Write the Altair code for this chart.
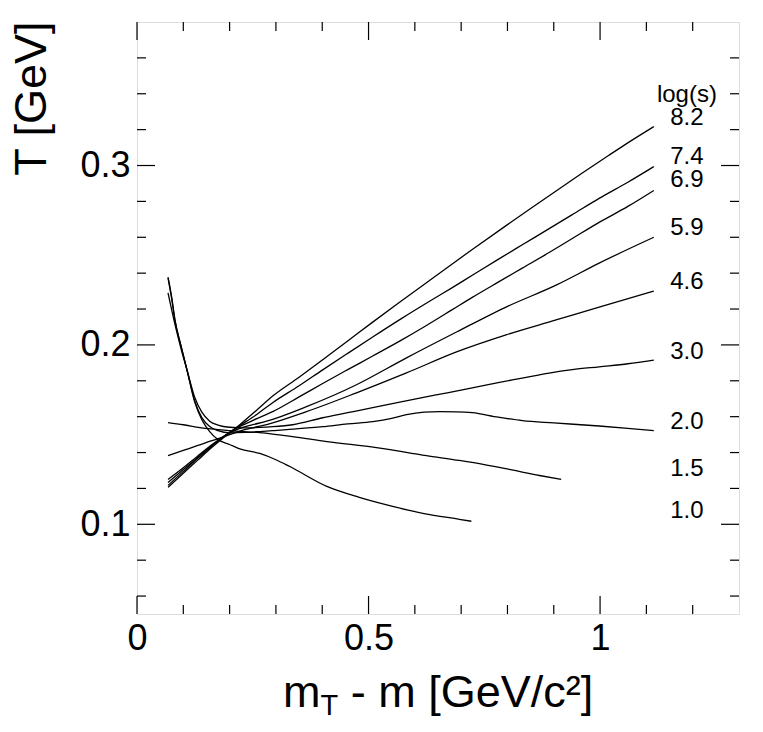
import altair as alt
import pandas as pd

# ---------------- data ----------------
x_10 = [0.067, 0.075, 0.082, 0.095, 0.108, 0.125, 0.14, 0.157, 0.175, 0.2, 0.222, 0.265, 0.3, 0.33, 0.41, 0.48, 0.552, 0.62, 0.696, 0.722]
T_10 = [0.2378, 0.2265, 0.2139, 0.1995, 0.1861, 0.1678, 0.1583, 0.1517, 0.1472, 0.1445, 0.142, 0.1395, 0.136, 0.1322, 0.1211, 0.115, 0.11, 0.106, 0.1028, 0.1017]

x_15 = [0.067, 0.1, 0.136, 0.2, 0.265, 0.336, 0.41, 0.517, 0.625, 0.696, 0.75, 0.804, 0.869, 0.916]
T_15 = [0.1567, 0.1555, 0.1539, 0.1522, 0.1511, 0.1489, 0.1461, 0.1428, 0.1383, 0.1356, 0.1333, 0.1306, 0.1272, 0.125]

x_20 = [0.067, 0.075, 0.082, 0.095, 0.108, 0.125, 0.14, 0.157, 0.175, 0.2, 0.233, 0.265, 0.293, 0.336, 0.401, 0.455, 0.509, 0.55, 0.582, 0.62, 0.653, 0.69, 0.724, 0.78, 0.832, 0.9, 0.998, 1.06, 1.116]
T_20 = [0.2372, 0.2255, 0.2135, 0.1995, 0.1858, 0.1685, 0.1595, 0.1545, 0.1522, 0.151, 0.1512, 0.1517, 0.1522, 0.153, 0.1544, 0.156, 0.1572, 0.159, 0.1611, 0.1625, 0.1628, 0.1627, 0.1622, 0.1597, 0.1578, 0.1565, 0.1548, 0.1535, 0.1522]

x_30 = [0.067, 0.082, 0.095, 0.108, 0.125, 0.14, 0.157, 0.175, 0.2, 0.233, 0.265, 0.293, 0.336, 0.401, 0.455, 0.509, 0.562, 0.616, 0.67, 0.724, 0.78, 0.832, 0.89, 0.94, 0.998, 1.06, 1.116]
T_30 = [0.229, 0.2115, 0.198, 0.186, 0.1705, 0.1625, 0.1575, 0.1553, 0.1541, 0.1538, 0.154, 0.1544, 0.1555, 0.1594, 0.1622, 0.165, 0.1678, 0.1706, 0.1733, 0.1761, 0.179, 0.1815, 0.1843, 0.1862, 0.1878, 0.1895, 0.1915]

x_46 = [0.067, 0.1, 0.13, 0.16, 0.19, 0.222, 0.25, 0.28, 0.366, 0.474, 0.582, 0.69, 0.797, 0.905, 0.998, 1.116]
T_46 = [0.1383, 0.1412, 0.1438, 0.1465, 0.149, 0.152, 0.1538, 0.1556, 0.1628, 0.1733, 0.1844, 0.1961, 0.2056, 0.2139, 0.2211, 0.23]

x_59 = [0.067, 0.1, 0.13, 0.16, 0.19, 0.222, 0.25, 0.28, 0.366, 0.474, 0.582, 0.69, 0.797, 0.905, 0.998, 1.116]
T_59 = [0.125, 0.1315, 0.1378, 0.144, 0.1495, 0.1535, 0.1555, 0.1575, 0.1656, 0.1778, 0.1928, 0.2072, 0.2211, 0.2333, 0.2456, 0.26]

x_69 = [0.067, 0.1, 0.13, 0.16, 0.19, 0.222, 0.26, 0.293, 0.35, 0.401, 0.455, 0.509, 0.57, 0.625, 0.68, 0.724, 0.78, 0.832, 0.89, 0.94, 0.998, 1.06, 1.116]
T_69 = [0.1233, 0.1305, 0.137, 0.1435, 0.1495, 0.1545, 0.159, 0.1628, 0.171, 0.1785, 0.1862, 0.1938, 0.2025, 0.2108, 0.2195, 0.2265, 0.235, 0.2428, 0.2515, 0.2593, 0.2683, 0.2772, 0.2861]

x_74 = [0.067, 0.1, 0.13, 0.16, 0.19, 0.222, 0.26, 0.293, 0.35, 0.401, 0.455, 0.509, 0.57, 0.638, 0.68, 0.724, 0.78, 0.832, 0.89, 0.94, 0.998, 1.06, 1.116]
T_74 = [0.1217, 0.1295, 0.1365, 0.1432, 0.1495, 0.155, 0.1615, 0.1678, 0.1772, 0.1861, 0.1953, 0.2044, 0.2145, 0.2253, 0.2318, 0.2388, 0.2477, 0.2558, 0.2648, 0.2726, 0.2817, 0.2907, 0.2994]

x_82 = [0.067, 0.1, 0.13, 0.16, 0.19, 0.222, 0.26, 0.293, 0.35, 0.401, 0.455, 0.509, 0.57, 0.631, 0.68, 0.724, 0.797, 0.85, 0.905, 0.96, 1.019, 1.07, 1.116]
T_82 = [0.1206, 0.1285, 0.1355, 0.1425, 0.149, 0.1555, 0.164, 0.1715, 0.182, 0.1917, 0.2022, 0.2127, 0.2243, 0.2358, 0.245, 0.2532, 0.2665, 0.276, 0.2858, 0.2955, 0.3057, 0.3143, 0.3217]

series_names = ["1.0", "1.5", "2.0", "3.0", "4.6", "5.9", "6.9", "7.4", "8.2"]
series_x = [x_10, x_15, x_20, x_30, x_46, x_59, x_69, x_74, x_82]
series_T = [T_10, T_15, T_20, T_30, T_46, T_59, T_69, T_74, T_82]

label_text = ["log(s)", "8.2", "7.4", "6.9", "5.9", "4.6", "3.0", "2.0", "1.5", "1.0"]
label_T = [0.3395, 0.3267, 0.305, 0.2917, 0.265, 0.235, 0.1961, 0.1572, 0.1306, 0.1072]
label_x = [1.1875] * len(label_text)

x_major = [0.0, 0.5, 1.0]
x_minor = [0.1, 0.2, 0.3, 0.4, 0.6, 0.7, 0.8, 0.9, 1.1, 1.2]
y_major = [0.1, 0.2, 0.3]
y_minor = [0.06, 0.08, 0.12, 0.14, 0.16, 0.18, 0.22, 0.24, 0.26, 0.28, 0.32, 0.34, 0.36]

# ---------------- build tables ----------------
rows = []
for name, xs, ts in zip(series_names, series_x, series_T):
    for xv, tv in zip(xs, ts):
        rows.append({"s": name, "x": xv, "T": tv})
df_lines = pd.DataFrame(rows)
df_labels = pd.DataFrame({"x": label_x, "T": label_T, "t": label_text})

W, H = 602, 592
FONT = "Liberation Sans"
MAJ, MIN = 18, 9

xscale = alt.Scale(domain=[0, 1.3], nice=False, zero=False)
yscale = alt.Scale(domain=[0.05, 0.38], nice=False, zero=False)

x_axis = alt.Axis(values=[0, 0.5, 1], format="~g", ticks=False, tickSize=0, domain=False, grid=False,
                  labelFont=FONT, labelFontSize=36, labelColor="black", labelPadding=7,
                  labelFlush=False, labelOverlap=False, title=None)
y_axis = alt.Axis(values=y_major, format=".1f", ticks=False, tickSize=0, domain=False, grid=False,
                  labelFont=FONT, labelFontSize=36, labelColor="black", labelPadding=7,
                  labelFlush=False, labelOverlap=False,
                  title="T [GeV]", titleFont=FONT, titleFontSize=45, titleFontWeight="normal",
                  titleColor="black", titleAngle=270, titleAlign="right", titleBaseline="alphabetic",
                  titleX=-92, titleY=-1)

lines = alt.Chart(df_lines).mark_line(color="black", strokeWidth=1.3, interpolate="monotone").encode(
    x=alt.X("x:Q", scale=xscale, axis=x_axis),
    y=alt.Y("T:Q", scale=yscale, axis=y_axis),
    detail="s:N",
)

labels = alt.Chart(df_labels).mark_text(font=FONT, fontSize=24, color="black", align="center", baseline="middle").encode(
    x=alt.X("x:Q", scale=xscale),
    y=alt.Y("T:Q", scale=yscale),
    text="t:N",
)


def xticks(vals, length):
    d = pd.DataFrame({"x": vals})
    bottom = alt.Chart(d).mark_rule(color="black", strokeWidth=1.2).encode(
        x=alt.X("x:Q", scale=xscale), y=alt.value(H - length), y2=alt.value(H))
    top = alt.Chart(d).mark_rule(color="black", strokeWidth=1.2).encode(
        x=alt.X("x:Q", scale=xscale), y=alt.value(0), y2=alt.value(length))
    return [bottom, top]


def yticks(vals, length):
    d = pd.DataFrame({"T": vals})
    left = alt.Chart(d).mark_rule(color="black", strokeWidth=1.2).encode(
        y=alt.Y("T:Q", scale=yscale), x=alt.value(0), x2=alt.value(length))
    right = alt.Chart(d).mark_rule(color="black", strokeWidth=1.2).encode(
        y=alt.Y("T:Q", scale=yscale), x=alt.value(W - length), x2=alt.value(W))
    return [left, right]


one = pd.DataFrame({"a": [0]})
TX = 146
t_m = alt.Chart(one).mark_text(font=FONT, fontSize=45, color="black", align="right", baseline="alphabetic").encode(
    x=alt.value(TX + 37.5), y=alt.value(685), text=alt.value("m"))
t_sub = alt.Chart(one).mark_text(font=FONT, fontSize=29, color="black", align="left", baseline="alphabetic").encode(
    x=alt.value(TX + 37.5), y=alt.value(693), text=alt.value("T"))
t_rest = alt.Chart(one).mark_text(font=FONT, fontSize=45, color="black", align="left", baseline="alphabetic").encode(
    x=alt.value(TX + 37.5 + 17.7 + 12.5), y=alt.value(685), text=alt.value("- m [GeV/c\u00b2]"))

layers = [lines, labels] + xticks(x_major, MAJ) + xticks(x_minor, MIN) + yticks(y_major, MAJ) + yticks(y_minor, MIN) + [t_m, t_sub, t_rest]

chart = alt.layer(*layers).properties(
    width=W, height=H,
    padding={"left": 129, "top": 14, "right": 14, "bottom": 106},
    autosize=alt.AutoSizeParams(type="none"),
).configure_view(stroke="black", strokeWidth=1.5).configure(background="white")

chart.save("out.html", embed_options={"renderer": "svg", "actions": False})
